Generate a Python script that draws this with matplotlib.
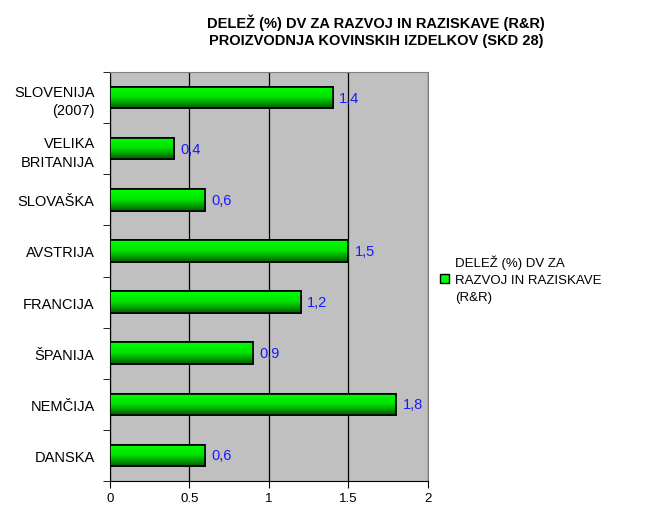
import matplotlib
matplotlib.use("Agg")
import matplotlib.pyplot as plt
import numpy as np
from matplotlib.colors import LinearSegmentedColormap

plt.rcParams['font.family'] = ['Liberation Sans', 'DejaVu Sans']

countries = ["SLOVENIJA\n(2007)", "VELIKA\nBRITANIJA", "SLOVAŠKA", "AVSTRIJA",
             "FRANCIJA", "ŠPANIJA", "NEMČIJA", "DANSKA"]
values = [1.4, 0.4, 0.6, 1.5, 1.2, 0.9, 1.8, 0.6]
labels = ["1,4", "0,4", "0,6", "1,5", "1,2", "0,9", "1,8", "0,6"]
xticks = [0, 0.5, 1, 1.5, 2]
xticklabels = ["0", "0.5", "1", "1.5", "2"]
series_name = "DELEŽ (%) DV ZA\nRAZVOJ IN RAZISKAVE\n(R&R)"

fig = plt.figure(figsize=(6.61, 5.06), dpi=100)
ax = fig.add_axes([0.1664, 0.0474, 0.4811, 0.8083])
ax.set_facecolor('#c0c0c0')

y = np.arange(len(countries))[::-1]
bars = ax.barh(y, values, height=0.42, color='#00ff00', edgecolor='black', linewidth=1.2, zorder=3)

# vertical gradient on each bar (bright on top, dark below)
grad = np.linspace(0, 1, 64).reshape(-1, 1)
cmap = LinearSegmentedColormap.from_list('g', ['#00ff00', '#00e000', '#006000'])
for b in bars:
    x0, y0, w, h = b.get_x(), b.get_y(), b.get_width(), b.get_height()
    im = ax.imshow(grad, cmap=cmap, aspect='auto', extent=[x0, x0 + w, y0, y0 + h],
                   origin='upper', zorder=3.5)
    im.set_clip_path(b)
    ax.add_patch(plt.Rectangle((x0, y0), w, h, fill=False, edgecolor='black', linewidth=1.2, zorder=4))

for yi, v, t in zip(y, values, labels):
    ax.text(v + 0.04, yi, t, color='#1a1aff', fontsize=10.5, va='center', ha='left', zorder=5)

ax.set_xlim(0, 2)
ax.set_ylim(-0.5, len(countries) - 0.5)
ax.set_xticks(xticks)
ax.set_xticklabels(xticklabels, fontsize=9.5)
ax.set_yticks(y)
ax.set_yticklabels(countries, fontsize=10.5, linespacing=1.4)
ax.set_yticks(np.arange(-0.5, len(countries)), minor=True)
ax.tick_params(axis='y', which='major', length=0, pad=11)
ax.tick_params(axis='y', which='minor', length=5, direction='out', color='black')
ax.tick_params(axis='x', length=5, direction='out', pad=3)
ax.xaxis.grid(True, color='black', linewidth=0.9, zorder=1)
ax.set_axisbelow(True)
for s in ['top', 'right']:
    ax.spines[s].set_color('#808080')
for s in ['left', 'bottom']:
    ax.spines[s].set_color('black')

fig.text(0.569, 0.972, "DELEŽ (%) DV ZA RAZVOJ IN RAZISKAVE (R&R)\nPROIZVODNJA KOVINSKIH IZDELKOV (SKD 28)",
         ha='center', va='top', fontsize=10.5, fontweight='bold', linespacing=1.3)

handle = plt.Rectangle((0, 0), 1, 1, facecolor='#00ff00', edgecolor='black', linewidth=1)
fig.legend([handle], [series_name], loc='center left', bbox_to_anchor=(0.648, 0.447),
           frameon=False, handlelength=0.7, handleheight=0.7, handletextpad=0.4,
           prop={'size': 9.5})
for txt in fig.legends[0].get_texts():
    txt.set_linespacing(1.55)

fig.savefig('out.png', dpi=100)
